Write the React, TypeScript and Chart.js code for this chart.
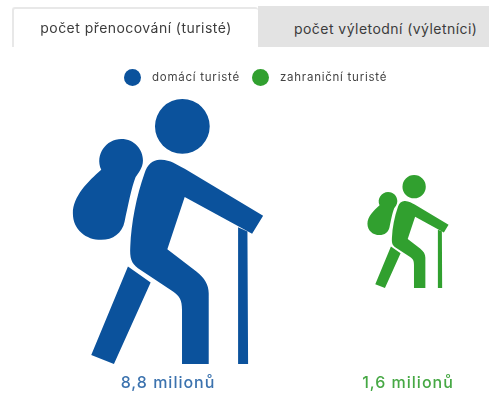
import React, { useEffect, useRef } from "react";
import { Chart, registerables, LinearScale } from "chart.js";

Chart.register(...registerables);

const tabs = ["počet přenocování (turisté)", "počet výletodní (výletníci)"];
const categories = ["domácí turisté", "zahraniční turisté"];
const positions = [1, 2];
const values = [8.8, 1.6];
const valueLabels = ["8,8 milionů", "1,6 milionů"];
const colors = ["#0b529c", "#31a02f"];
const textColors = ["#3b72ae", "#46a844"];

const FONT = "Inter, 'Noto Sans', sans-serif";

// hiker glyph outline, in its own 570 x 794 design box origin (40, 28)
const HIKER_BOX = { x: 40, y: 28, w: 570, h: 794 };
const HIKER = [
  "M 450 110 A 82 82 0 1 1 286 110 A 82 82 0 1 1 450 110 Z",
  "M 125 240 C 105 195 140 148 185 148 C 225 148 250 180 250 212 C 250 235 235 250 228 262 C 215 295 205 350 195 395 C 188 430 160 450 125 450 C 80 450 40 420 40 370 C 40 320 85 275 125 240 Z",
  "M 300 210 C 330 208 350 225 375 237 L 610 378 L 577 432 L 375 322 L 323 478 L 410 545 C 435 565 447 585 447 610 L 447 822 L 367 822 L 367 660 C 367 630 360 620 340 605 L 235 535 C 215 520 210 505 212 470 C 215 400 230 320 255 250 C 262 225 280 210 300 210 Z",
  "M 205 530 L 273 578 L 163 822 L 95 795 Z",
  "M 535 412 L 563 425 L 565 822 L 535 822 Z",
].join(" ");

// icon height follows the square root of the value, so its area follows the value
class SqrtScale extends (LinearScale as any) {
  static id = "sqrt";
  static defaults = (LinearScale as any).defaults;
  getPixelForValue(value: number) {
    return this.bottom - Math.sqrt(value / this.max) * (this.bottom - this.top);
  }
}
Chart.register(SqrtScale as any);

const hikerPlugin = {
  id: "hiker",
  beforeDatasetDraw(chart: any, args: any) {
    const ctx = chart.ctx;
    const path = new Path2D(HIKER);
    const { top, bottom } = chart.chartArea;
    args.meta.data.forEach((el: any, i: number) => {
      const h = el.base - el.y;
      const k = h / HIKER_BOX.h;
      const w = HIKER_BOX.w * k;
      ctx.save();
      ctx.translate(el.x - w / 2, (top + bottom) / 2 - h / 2);
      ctx.scale(k, k);
      ctx.translate(-HIKER_BOX.x, -HIKER_BOX.y);
      ctx.fillStyle = el.options.backgroundColor;
      ctx.fill(path);
      ctx.restore();
      ctx.save();
      ctx.font = `500 16px ${FONT}`;
      ctx.letterSpacing = "1px";
      ctx.textAlign = "center";
      ctx.textBaseline = "middle";
      ctx.fillStyle = textColors[i];
      ctx.fillText(valueLabels[i], el.x, bottom + 19);
      ctx.restore();
    });
    return false;
  },
};

export default function App() {
  const ref = useRef<HTMLCanvasElement>(null);
  useEffect(() => {
    const chart = new Chart(ref.current!, {
      type: "bar",
      data: {
        labels: categories,
        datasets: [
          {
            label: "turisté",
            data: positions.map((x, i) => ({ x, y: values[i] })),
            backgroundColor: colors,
          },
        ],
      },
      options: {
        animation: false,
        responsive: false,
        layout: { padding: { top: 99, bottom: 31, left: 0, right: 0 } },
        scales: {
          x: { type: "linear", min: 0.3, max: 2.3375, display: false, offset: false },
          y: { type: "sqrt", min: 0, max: 8.8, display: false },
        },
        plugins: { legend: { display: false }, tooltip: { enabled: false } },
      } as any,
      plugins: [hikerPlugin],
    });
    return () => chart.destroy();
  }, []);

  const tabBase: React.CSSProperties = {
    position: "absolute",
    fontSize: 14,
    letterSpacing: 0.45,
    color: "#3c3c3c",
    whiteSpace: "nowrap",
    overflow: "hidden",
    boxSizing: "border-box",
  };

  return (
    <div style={{ position: "fixed", left: 0, top: 0, width: 489, height: 395, overflow: "hidden", background: "#fff", fontFamily: FONT }}>
      <canvas ref={ref} width={489} height={395} style={{ position: "absolute", left: 0, top: 0, display: "block" }} />
      <div style={{ ...tabBase, left: 258, width: 231, top: 6, height: 41, lineHeight: "45px", paddingLeft: 36, background: "#e3e3e3" }}>{tabs[1]}</div>
      <div style={{ ...tabBase, left: 12, width: 246, top: 7, height: 40, lineHeight: "38px", textAlign: "center", background: "#fff", borderTop: "2px solid #e8e8e8", borderLeft: "2px solid #e8e8e8", borderRadius: "3px 3px 0 0" }}>{tabs[0]}</div>
      {categories.map((c, i) => (
        <React.Fragment key={c}>
          <div style={{ position: "absolute", left: [124, 252][i], top: 69, width: 17, height: 17, borderRadius: "50%", background: colors[i] }} />
          <div style={{ position: "absolute", left: [152, 280][i], top: 69, height: 17, lineHeight: "17px", fontSize: 11.5, letterSpacing: 0.75, color: "#444", whiteSpace: "nowrap" }}>{c}</div>
        </React.Fragment>
      ))}
    </div>
  );
}
